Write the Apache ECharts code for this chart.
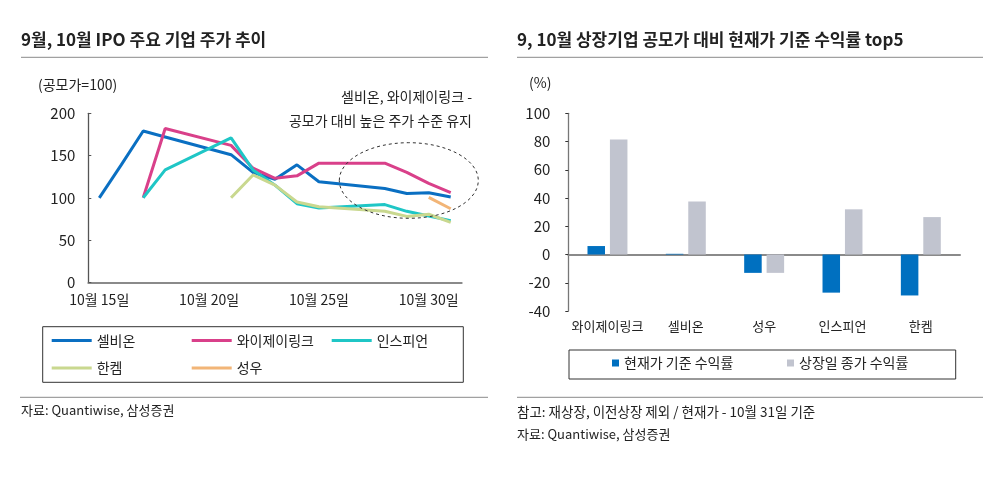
<!DOCTYPE html>
<html>
<head>
<meta charset="utf-8">
<script src="https://cdn.jsdelivr.net/npm/echarts@6/dist/echarts.min.js"></script>
<style>
html,body{margin:0;padding:0;background:#fff;}
#c{width:1007px;height:483px;}
</style>
</head>
<body>
<div id="c"></div>
<script>
// ---------- Left chart data (공모가=100) ----------
var dateLabels = ['10월 15일','10월 16일','10월 17일','10월 18일','10월 19일','10월 20일','10월 21일','10월 22일','10월 23일','10월 24일','10월 25일','10월 26일','10월 27일','10월 28일','10월 29일','10월 30일','10월 31일'];
var cellbion = [100, 139, 179, 172, null, null, 151, 130, 122, 139, 119, null, null, 111, 105, 106, 101];
var yjlink   = [null, null, 100, 182, null, null, 162, 135, 123, 126, 141, null, null, 141, 130, 117, 106];
var inspien  = [null, null, 100, 133, null, null, 171, 133, 115, 93, 88, null, null, 92, 84, 78.5, 73];
var hanchem  = [null, null, null, null, null, null, 100, 127, 115, 95, 89.5, null, null, 84, 78, 80.5, 71];
var sungwoo  = [null, null, null, null, null, null, null, null, null, null, null, null, null, null, null, 100.5, 87];
var lineNames = ['셀비온','와이제이링크','인스피언','한켐','성우'];

// ---------- Right chart data (%) ----------
var barCategories = ['와이제이링크','셀비온','성우','인스피언','한켐'];
var currentReturn = [6, 0.5, -13, -27, -29];
var listingReturn = [81.5, 37.5, -13, 32, 26.5];
var barNames = ['현재가 기준 수익률','상장일 종가 수익률'];

var FONT = '"Noto Sans CJK KR", "Noto Sans", sans-serif';
var lineColors = ['#0A6FC2','#D9408A','#1FC6C6','#C9D88F','#F2B577'];
var barColors = ['#0070C0','#C1C4CF'];

var chart = echarts.init(document.getElementById('c'), null, {renderer:'canvas'});

function txt(x, y, s, size, weight, align) {
  return {type:'text', x:x, y:y, style:{text:s, fill:'#222', font:(weight||'normal')+' '+size+'px '+FONT, textAlign:align||'left', textVerticalAlign:'middle'}};
}
function hline(x1, x2, y, c, w) {
  return {type:'line', shape:{x1:x1,y1:y,x2:x2,y2:y}, style:{stroke:c||'#8a8a8a', lineWidth:w||1}};
}

var lineData = [cellbion, yjlink, inspien, hanchem, sungwoo];
var series = [];
lineData.forEach(function(d, i){
  series.push({
    name: lineNames[i], type:'line', xAxisIndex:0, yAxisIndex:0,
    data: d, connectNulls:true, symbol:'none', smooth:false,
    lineStyle:{color:lineColors[i], width:3}, itemStyle:{color:lineColors[i]},
    emphasis:{disabled:true}
  });
});
series.push({name:barNames[0], type:'bar', xAxisIndex:1, yAxisIndex:1, data:currentReturn,
  itemStyle:{color:barColors[0]}, barCategoryGap:'49%', barGap:'28%'});
series.push({name:barNames[1], type:'bar', xAxisIndex:1, yAxisIndex:1, data:listingReturn,
  itemStyle:{color:barColors[1]}, barCategoryGap:'49%', barGap:'28%'});

// left legend positions
var legPos = [[51.7,333.5],[191.7,333.5],[331.7,333.5],[51.7,361],[191.7,361]];
var legends = lineNames.map(function(n, i){
  return {data:[n], left:legPos[i][0], top:legPos[i][1], padding:0, icon:'rect', itemWidth:40, itemHeight:3,
    textStyle:{fontFamily:FONT, fontSize:14, color:'#222'}, selectedMode:false};
});
legends.push({data:[barNames[0]], left:612, top:356, padding:0, icon:'rect', itemWidth:7, itemHeight:7,
  textStyle:{fontFamily:FONT, fontSize:14, color:'#222'}, selectedMode:false});
legends.push({data:[barNames[1]], left:787, top:356, padding:0, icon:'rect', itemWidth:7, itemHeight:7,
  textStyle:{fontFamily:FONT, fontSize:14, color:'#222'}, selectedMode:false});

var option = {
  animation:false,
  backgroundColor:'#fff',
  textStyle:{fontFamily:FONT},
  legend: legends,
  grid:[
    {left:88.3, top:113.3, width:373.4, height:169},
    {left:568.3, top:113.3, width:391.7, height:197.7}
  ],
  xAxis:[
    {type:'category', gridIndex:0, data:dateLabels, boundaryGap:true,
      axisLine:{lineStyle:{color:'#8a8a8a', width:2}},
      axisTick:{interval:4, length:4, lineStyle:{color:'#333', width:1}},
      axisLabel:{interval:4, margin:10, fontSize:14, color:'#222', fontFamily:FONT},
      splitLine:{show:false}},
    {type:'category', gridIndex:1, data:barCategories, boundaryGap:true,
      axisLine:{onZero:true, lineStyle:{color:'#8a8a8a', width:2}},
      axisTick:{length:3, lineStyle:{color:'#333', width:1}},
      axisLabel:{show:false}},
    {type:'category', gridIndex:1, data:barCategories, position:'bottom', boundaryGap:true,
      axisLine:{show:false, onZero:false}, axisTick:{show:false},
      axisLabel:{interval:0, margin:9, fontSize:13, color:'#222', fontFamily:FONT}}
  ],
  yAxis:[
    {type:'value', gridIndex:0, min:0, max:200, interval:50,
      axisLine:{show:true, lineStyle:{color:'#555', width:1.3}},
      axisTick:{show:true, inside:true, length:3, lineStyle:{color:'#555'}},
      axisLabel:{margin:13, fontSize:15, color:'#222', fontFamily:FONT},
      splitLine:{show:false}},
    {type:'value', gridIndex:1, min:-40, max:100, interval:20,
      axisLine:{show:true, lineStyle:{color:'#777', width:1.3}},
      axisTick:{show:true, inside:false, length:3, lineStyle:{color:'#333'}},
      axisLabel:{margin:18, fontSize:15, color:'#222', fontFamily:FONT},
      splitLine:{show:false}}
  ],
  series: series,
  graphic:[
    txt(21, 40, '9월, 10월 IPO 주요 기업 주가 추이', 17, 'bold'),
    hline(21, 488, 57.3, '#8a8a8a', 1),
    txt(38, 85, '(공모가=100)', 14),
    txt(472, 97, '셀비온, 와이제이링크 -', 14, 'normal', 'right'),
    txt(472, 121, '공모가 대비 높은 주가 수준 유지', 14, 'normal', 'right'),
    {type:'ellipse', shape:{cx:408.8, cy:180.5, rx:69.5, ry:37.8},
      style:{fill:'none', stroke:'#333', lineWidth:1, lineDash:[3,3]}, z:100},
    {type:'rect', shape:{x:42.7, y:326.7, width:420.6, height:55.6},
      style:{fill:'none', stroke:'#333', lineWidth:1}},
    hline(20, 488, 397.3, '#8a8a8a', 1),
    txt(21, 410, '자료: Quantiwise, 삼성증권', 13),

    txt(517, 40, '9, 10월 상장기업 공모가 대비 현재가 기준 수익률 top5', 17, 'bold'),
    hline(517, 983, 57.3, '#8a8a8a', 1),
    txt(529, 83, '(%)', 14),
    {type:'rect', shape:{x:569, y:350, width:386.7, height:29},
      style:{fill:'none', stroke:'#333', lineWidth:1}},
    hline(517, 983, 397.3, '#8a8a8a', 1),
    txt(517, 411.7, '참고: 재상장, 이전상장 제외 / 현재가 - 10월 31일 기준', 13.5),
    txt(517, 434, '자료: Quantiwise, 삼성증권', 13)
  ]
};
chart.setOption(option);
</script>
</body>
</html>
